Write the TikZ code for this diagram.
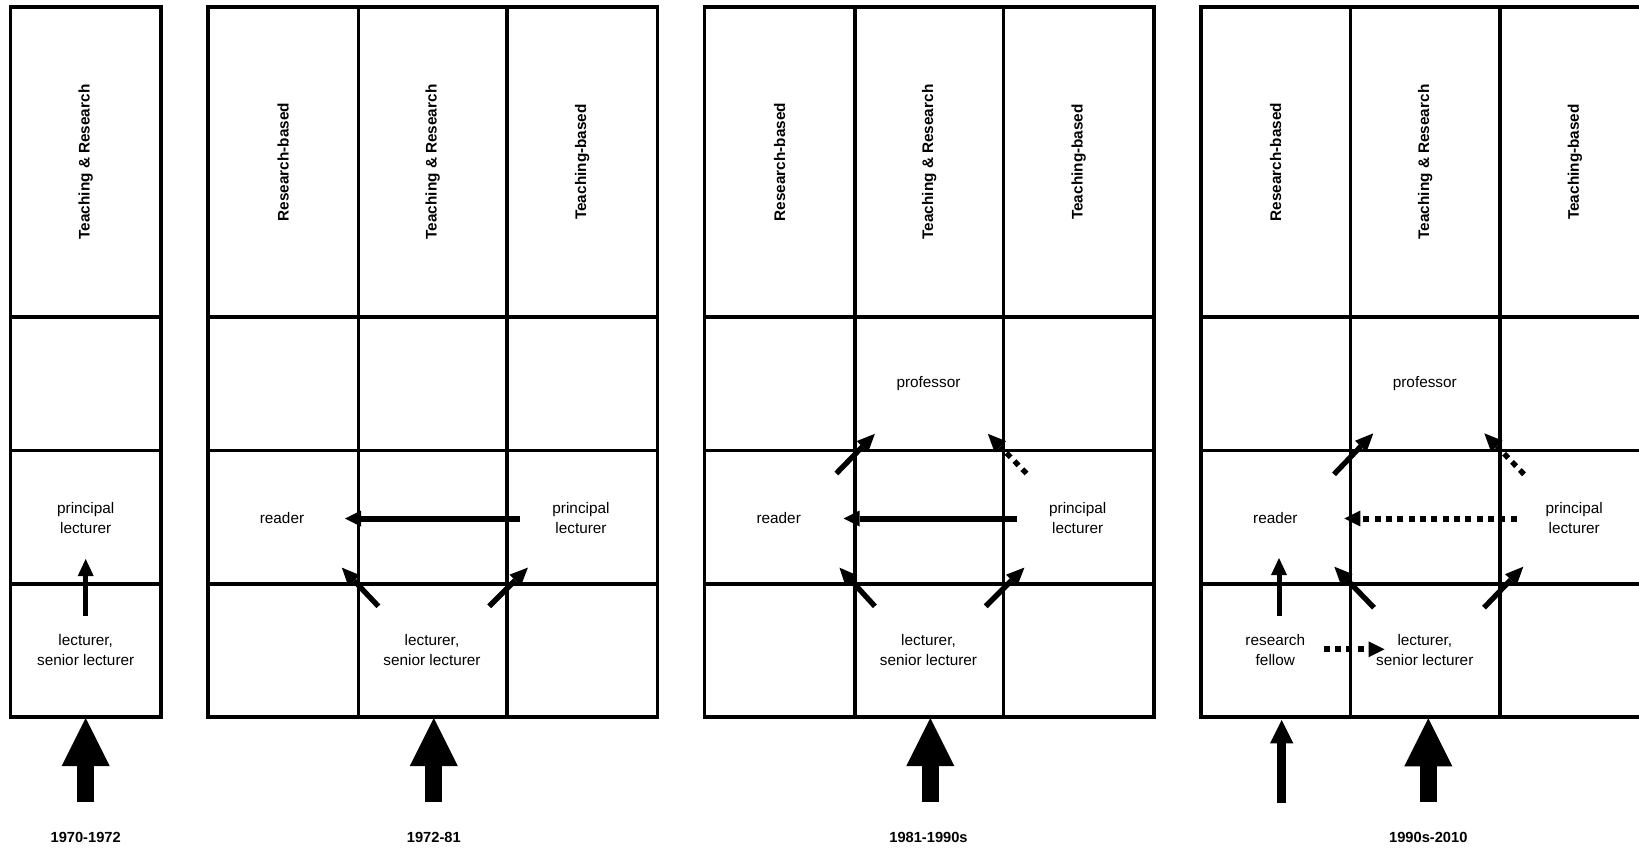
\documentclass[tikz,border=0pt]{standalone}
\usepackage{fontspec}
\setmainfont{Liberation Sans}
\usetikzlibrary{arrows.meta}
\begin{document}
\begin{tikzpicture}[x=0.75pt,y=-0.75pt,
  gridline/.style={line width=2.4pt, line join=miter},
  lbl/.style={align=center, font=\fontsize{11.5}{15}\selectfont, inner sep=0pt},
  hdr/.style={rotate=90, font=\fontsize{11.5}{14}\selectfont\bfseries, inner sep=0pt},
  yr/.style={font=\fontsize{11}{13}\selectfont\bfseries, inner sep=0pt},
  smallarrow/.style={line width=3.75pt, -{Triangle[length=12.75pt,width=12pt,line width=0pt]}},
  harrow/.style={line width=4.5pt, -{Triangle[length=12pt,width=12pt,line width=0pt]}},
  diagarrow/.style={line width=4pt, -{Triangle[length=13.5pt,width=12pt,line width=0pt]}},
  dotline/.style={dash pattern=on 4.5pt off 4pt},
  midarrow/.style={line width=7pt, -{Triangle[length=17.5pt,width=17.5pt,line width=0pt]}},
  bigarrow/.style={line width=12.75pt, -{Triangle[length=36pt,width=36pt,line width=0pt]}}
]
\useasboundingbox (0,0) rectangle (1639,850);
\clip (0,0) rectangle (1639,850);
\fill[white] (0,0) rectangle (1639,850);

% ---------- grids ----------
\draw[gridline] (10.5,7) rectangle (161,717);
\foreach \y in {317,450.5,584} \draw[gridline] (10.5,\y) -- (161,\y);
\foreach \a/\b/\c/\d in {208/358.5/507/657.5, 704.5/855/1003.5/1154, 1201/1350.5/1500/1650}{
  \draw[gridline] (\a,7) rectangle (\d,717);
  \foreach \y in {317,450.5,584} \draw[gridline] (\a,\y) -- (\d,\y);
  \draw[gridline] (\b,7) -- (\b,717);
  \draw[gridline] (\c,7) -- (\c,717);
}

% ---------- headers ----------
\node[hdr] (h1) at (85.7,162) {Teaching \& Research};
\node[hdr] (h2a) at (283.2,162) {Research-based};
\node[hdr] (h2b) at (432.7,162) {Teaching \& Research};
\node[hdr] (h2c) at (582.2,162) {Teaching-based};
\node[hdr] (h3a) at (779.7,162) {Research-based};
\node[hdr] (h3b) at (929.2,162) {Teaching \& Research};
\node[hdr] (h3c) at (1078.7,162) {Teaching-based};
\node[hdr] (h4a) at (1275.7,162) {Research-based};
\node[hdr] (h4b) at (1425.2,162) {Teaching \& Research};
\node[hdr] (h4c) at (1575,162) {Teaching-based};

% ---------- table 1 ----------
\node[lbl] (t1pl) at (85.7,518) {principal\\lecturer};
\node[lbl] (t1ls) at (85.7,650) {lecturer,\\senior lecturer};
\coordinate (t1a0) at (85.7,616);
\coordinate (t1a1) at (85.7,559);
\draw[smallarrow] (t1a0) -- (t1a1);
\coordinate (t1b0) at (85.7,802);
\coordinate (t1b1) at (85.7,718);
\draw[bigarrow] (t1b0) -- (t1b1);
\node[yr] (y1) at (85.7,837) {1970-1972};

% ---------- table 2 ----------
\node[lbl] (t2rd) at (282,518) {reader};
\node[lbl] (t2pl) at (581,518) {principal\\lecturer};
\node[lbl] (t2ls) at (432,650) {lecturer,\\senior lecturer};
\coordinate (t2h0) at (519.5,518.5);
\coordinate (t2h1) at (345,518.5);
\draw[harrow] (t2h0) -- (t2h1);
\coordinate (t2l0) at (378.4,606.3);
\coordinate (t2l1) at (341.8,567.6);
\draw[diagarrow] (t2l0) -- (t2l1);
\coordinate (t2r0) at (489.2,606.3);
\coordinate (t2r1) at (527.9,567.6);
\draw[diagarrow] (t2r0) -- (t2r1);
\coordinate (t2b0) at (433.8,802);
\coordinate (t2b1) at (433.8,718);
\draw[bigarrow] (t2b0) -- (t2b1);
\node[yr] (y2) at (433.8,837) {1972-81};

% ---------- table 3 ----------
\node[lbl] (t3pr) at (928.5,383.6) {professor};
\node[lbl] (t3rd) at (778.7,518) {reader};
\node[lbl] (t3pl) at (1077.7,518) {principal\\lecturer};
\node[lbl] (t3ls) at (928.5,650) {lecturer,\\senior lecturer};
\coordinate (t3h0) at (1017,518.5);
\coordinate (t3h1) at (843.6,518.5);
\draw[harrow] (t3h0) -- (t3h1);
\coordinate (t3l0) at (874.9,606.3);
\coordinate (t3l1) at (839.4,567.6);
\draw[diagarrow] (t3l0) -- (t3l1);
\coordinate (t3r0) at (985.7,606.3);
\coordinate (t3r1) at (1024.4,567.6);
\draw[diagarrow] (t3r0) -- (t3r1);
\coordinate (t3u0) at (836.3,473.5);
\coordinate (t3u1) at (874.9,433.8);
\draw[diagarrow] (t3u0) -- (t3u1);
\coordinate (t3d0) at (1026.5,473.5);
\coordinate (t3d1) at (987.8,433.8);
\draw[diagarrow,dotline] (t3d0) -- (t3d1);
\coordinate (t3b0) at (930.3,802);
\coordinate (t3b1) at (930.3,718);
\draw[bigarrow] (t3b0) -- (t3b1);
\node[yr] (y3) at (928.5,837) {1981-1990s};

% ---------- table 4 ----------
\node[lbl] (t4pr) at (1424.8,383.6) {professor};
\node[lbl] (t4rd) at (1275.3,518) {reader};
\node[lbl] (t4pl) at (1574.2,518) {principal\\lecturer};
\node[lbl] (t4rf) at (1275.3,650) {research\\fellow};
\node[lbl] (t4ls) at (1424.8,650) {lecturer,\\senior lecturer};
\coordinate (t4h0) at (1516.7,518.5);
\coordinate (t4h1) at (1344.3,518.5);
\draw[harrow,dotline] (t4h0) -- (t4h1);
\coordinate (t4f0) at (1323.5,649.3);
\coordinate (t4f1) at (1384.5,649.3);
\draw[harrow,dotline] (t4f0) -- (t4f1);
\coordinate (t4v0) at (1279,615.5);
\coordinate (t4v1) at (1279,558);
\draw[smallarrow] (t4v0) -- (t4v1);
\coordinate (t4l0) at (1374,607.7);
\coordinate (t4l1) at (1334.3,566.7);
\draw[diagarrow] (t4l0) -- (t4l1);
\coordinate (t4r0) at (1484,607.7);
\coordinate (t4r1) at (1523.3,566.7);
\draw[diagarrow] (t4r0) -- (t4r1);
\coordinate (t4u0) at (1334,474.3);
\coordinate (t4u1) at (1373.3,433.3);
\draw[diagarrow] (t4u0) -- (t4u1);
\coordinate (t4d0) at (1524,474.3);
\coordinate (t4d1) at (1484.3,433.3);
\draw[diagarrow,dotline] (t4d0) -- (t4d1);
\coordinate (t4m0) at (1281.7,802.7);
\coordinate (t4m1) at (1281.7,720);
\draw[midarrow] (t4m0) -- (t4m1);
\coordinate (t4b0) at (1428.3,801.7);
\coordinate (t4b1) at (1428.3,718.3);
\draw[bigarrow] (t4b0) -- (t4b1);
\node[yr] (y4) at (1428.3,837) {1990s-2010};
\end{tikzpicture}
\end{document}
